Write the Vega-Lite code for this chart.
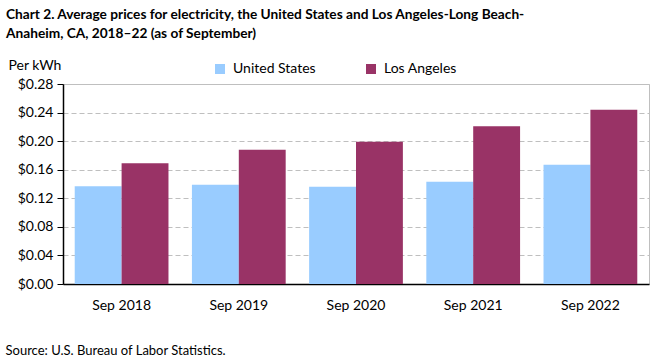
{
  "$schema": "https://vega.github.io/schema/vega-lite/v6.json",
  "autosize": "none",
  "width": 586,
  "height": 200,
  "padding": {"left": 63, "top": 84, "right": 12, "bottom": 76},
  "background": "white",
  "config": {
    "font": "Lato",
    "view": {"stroke": "#bfbfbf", "strokeWidth": 1}
  },
  "title": {
    "text": ["Chart 2. Average prices for electricity, the United States and Los Angeles-Long Beach-", "Anaheim, CA, 2018–22 (as of September)"],
    "anchor": "start",
    "frame": "group",
    "dx": -57,
    "dy": -13,
    "fontSize": 13.7,
    "fontWeight": "bold",
    "color": "#000000",
    "lineHeight": 19
  },
  "data": {
    "values": [
      {"period": "Sep 2018", "series": "United States", "price": 0.137},
      {"period": "Sep 2018", "series": "Los Angeles", "price": 0.169},
      {"period": "Sep 2019", "series": "United States", "price": 0.139},
      {"period": "Sep 2019", "series": "Los Angeles", "price": 0.188},
      {"period": "Sep 2020", "series": "United States", "price": 0.136},
      {"period": "Sep 2020", "series": "Los Angeles", "price": 0.199},
      {"period": "Sep 2021", "series": "United States", "price": 0.143},
      {"period": "Sep 2021", "series": "Los Angeles", "price": 0.221},
      {"period": "Sep 2022", "series": "United States", "price": 0.167},
      {"period": "Sep 2022", "series": "Los Angeles", "price": 0.244}
    ]
  },
  "mark": {"type": "bar"},
  "encoding": {
    "x": {
      "field": "period",
      "type": "nominal",
      "scale": {"paddingInner": 0.2, "paddingOuter": 0.1},
      "axis": {
        "title": "Source: U.S. Bureau of Labor Statistics.",
        "titleX": -58,
        "titleY": 66,
        "titleAnchor": "start",
        "titleAlign": "left",
        "titleBaseline": "middle",
        "titleFontSize": 13,
        "titleFontWeight": "normal",
        "titleColor": "#000000",
        "labelAngle": 0,
        "labelFontSize": 14,
        "labelColor": "#000000",
        "labelPadding": 14,
        "ticks": false,
        "domainColor": "#000000",
        "domainWidth": 1.5
      }
    },
    "xOffset": {"field": "series", "type": "nominal", "sort": ["United States", "Los Angeles"]},
    "y": {
      "field": "price",
      "type": "quantitative",
      "scale": {"domain": [0, 0.28], "nice": false},
      "axis": {
        "values": [0, 0.04, 0.08, 0.12, 0.16, 0.2, 0.24, 0.28],
        "format": "$.2f",
        "title": "Per kWh",
        "titleAngle": 0,
        "titleX": -55,
        "titleY": -19,
        "titleAlign": "left",
        "titleBaseline": "middle",
        "titleFontSize": 14,
        "titleFontWeight": "normal",
        "titleColor": "#000000",
        "labelFontSize": 14,
        "labelColor": "#000000",
        "labelPadding": 4,
        "tickColor": "#000000",
        "tickSize": 6,
        "domainColor": "#000000",
        "domainWidth": 1.5,
        "gridColor": "#bfbfbf",
        "gridDash": [5, 3],
        "gridWidth": 1
      }
    },
    "color": {
      "field": "series",
      "type": "nominal",
      "sort": ["United States", "Los Angeles"],
      "scale": {"domain": ["United States", "Los Angeles"], "range": ["#99ccff", "#993366"]},
      "legend": {
        "title": null,
        "orient": "none",
        "direction": "horizontal",
        "legendX": 150,
        "legendY": -22,
        "symbolType": "square",
        "symbolSize": 100,
        "symbolStrokeWidth": 0,
        "labelFontSize": 14,
        "labelColor": "#000000",
        "columnPadding": 48,
        "labelOffset": 6
      }
    }
  }
}
